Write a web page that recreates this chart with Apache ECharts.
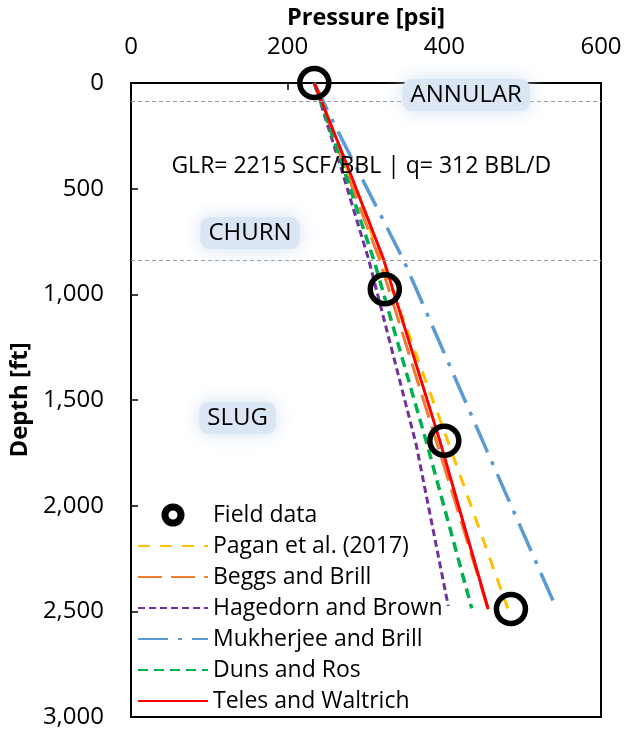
<!DOCTYPE html>
<html>
<head>
<meta charset="utf-8">
<script src="https://cdn.jsdelivr.net/npm/echarts@6/dist/echarts.min.js"></script>
<style>
  html, body { margin: 0; padding: 0; background: #fff; }
  #chart { width: 627px; height: 733px; }
</style>
</head>
<body>
<div id="chart"></div>
<script>
// ---- Axis ticks ----
const pressureTicks = [0, 200, 400, 600];       // psi
const depthTicks = [0, 500, 1000, 1500, 2000, 2500, 3000]; // ft

// ---- Field measurements ----
const fieldDepth = [0, 976, 1693, 2489];
const fieldPressure = [234, 324, 400, 485];

// ---- Model predictions (depth ft, pressure psi) ----
const paganDepth = [0, 400, 800, 1690, 2486];
const paganPressure = [234, 275, 316, 404, 481];

const beggsDepth = [0, 400, 822, 1816, 2490];
const beggsPressure = [234, 273, 316, 400, 456];

const hagedornDepth = [0, 400, 830, 1710, 2475];
const hagedornPressure = [234, 268, 303, 364, 405];

const mukherjeeDepth = [0, 191, 838, 1737, 2460];
const mukherjeePressure = [234, 259, 348, 454, 540];

const dunsDepth = [0, 400, 850, 1710, 2486];
const dunsPressure = [234, 271, 311, 378, 435];

const telesDepth = [0, 400, 830, 1690, 2490];
const telesPressure = [234, 277, 322, 394, 456];

// ---- Flow pattern boundaries and labels ----
const transitionDepths = [85, 840];
const regimeNames = ['ANNULAR', 'CHURN', 'SLUG'];
const conditionsText = 'GLR= 2215 SCF/BBL | q= 312 BBL/D';

const FONT = '"Open Sans", "Noto Sans", sans-serif';

function toPairs(pressures, depths) {
  return pressures.map((p, i) => [p, depths[i]]);
}
function withCommas(v) {
  return String(v).replace(/\B(?=(\d{3})+(?!\d))/g, ',');
}

const models = [
  { name: 'Pagan et al. (2017)', p: paganPressure, d: paganDepth, color: '#FFC000', width: 3, dash: [12, 10] },
  { name: 'Beggs and Brill', p: beggsPressure, d: beggsDepth, color: '#ED7D31', width: 3, dash: [24, 9] },
  { name: 'Hagedorn and Brown', p: hagedornPressure, d: hagedornDepth, color: '#7030A0', width: 3, dash: [7, 4] },
  { name: 'Mukherjee and Brill', p: mukherjeePressure, d: mukherjeeDepth, color: '#5B9BD5', width: 3.5, dash: [30, 10, 4, 10] },
  { name: 'Duns and Ros', p: dunsPressure, d: dunsDepth, color: '#00B050', width: 3.5, dash: [10, 6] },
  { name: 'Teles and Waltrich', p: telesPressure, d: telesDepth, color: '#FF0000', width: 3, dash: 'solid' }
];

const series = [];

// dashed flow-regime boundaries
series.push({
  type: 'line',
  data: [],
  silent: true,
  z: 1,
  markLine: {
    silent: true,
    symbol: 'none',
    label: { show: false },
    animation: false,
    lineStyle: { color: '#9a9a9a', width: 1, type: [4, 3] },
    data: transitionDepths.map(d => ({ yAxis: d }))
  }
});

series.push({
  name: 'Field data',
  type: 'scatter',
  data: toPairs(fieldPressure, fieldDepth),
  symbol: 'circle',
  symbolSize: 29,
  z: 6,
  itemStyle: { color: 'rgba(0,0,0,0)', borderColor: '#000', borderWidth: 5.5, opacity: 1 },
  emphasis: { disabled: true }
});

models.forEach(m => {
  series.push({
    name: m.name,
    type: 'line',
    data: toPairs(m.p, m.d),
    symbol: 'none',
    smooth: false,
    z: 3,
    lineStyle: { color: m.color, width: m.width, type: m.dash },
    itemStyle: { color: m.color },
    emphasis: { disabled: true }
  });
});

const chart = echarts.init(document.getElementById('chart'), null, { renderer: 'canvas' });

chart.setOption({
  animation: false,
  backgroundColor: '#fff',
  textStyle: { fontFamily: FONT },
  grid: {
    left: 127, right: 26, top: 83, bottom: 16,
    show: true, borderColor: '#000', borderWidth: 2, backgroundColor: 'rgba(0,0,0,0)'
  },
  xAxis: {
    type: 'value',
    position: 'top',
    min: pressureTicks[0],
    max: pressureTicks[pressureTicks.length - 1],
    interval: pressureTicks[1] - pressureTicks[0],
    name: 'Pressure [psi]',
    nameLocation: 'middle',
    nameGap: 48,
    nameTextStyle: { fontFamily: FONT, fontSize: 23.5, fontWeight: 'bold', color: '#000' },
    axisLine: { show: true, lineStyle: { color: '#000', width: 2 } },
    axisTick: { show: true, inside: true, length: 7, lineStyle: { color: '#000', width: 1.5 } },
    axisLabel: { fontFamily: FONT, fontSize: 24, color: '#000', margin: 24 },
    splitLine: { show: false }
  },
  yAxis: {
    type: 'value',
    inverse: true,
    min: depthTicks[0],
    max: depthTicks[depthTicks.length - 1],
    interval: depthTicks[1] - depthTicks[0],
    name: 'Depth [ft]',
    nameLocation: 'middle',
    nameGap: 91,
    nameRotate: 90,
    nameTextStyle: { fontFamily: FONT, fontSize: 24, fontWeight: 'bold', color: '#000' },
    axisLine: { show: true, lineStyle: { color: '#000', width: 2 } },
    axisTick: { show: true, inside: true, length: 7, lineStyle: { color: '#000', width: 1.5 } },
    axisLabel: { fontFamily: FONT, fontSize: 24, color: '#000', margin: 27, formatter: v => withCommas(v) },
    splitLine: { show: false }
  },
  legend: {
    orient: 'vertical',
    left: 137,
    top: 503,
    padding: 0,
    itemWidth: 70,
    itemHeight: 16,
    itemGap: 7,
    selectedMode: false,
    // line entries show only their stroke pattern
    itemStyle: { opacity: 0 },
    textStyle: { fontFamily: FONT, fontSize: 23, color: '#000', lineHeight: 24 },
    data: [
      { name: 'Field data', itemStyle: { color: '#fff', borderColor: '#000', borderWidth: 7, opacity: 1 } },
      ...models.map(m => m.name)
    ]
  },
  series: series
});

// ---- Annotations placed in data coordinates ----
const annotationSpots = [
  { text: regimeNames[0], at: [428, 57], glow: true },
  { text: regimeNames[1], at: [152, 710], glow: true },
  { text: regimeNames[2], at: [136, 1585], glow: true },
  { text: conditionsText, at: [294, 396], glow: false, size: 23 }
];

const graphics = [];
annotationSpots.forEach(a => {
  const pt = chart.convertToPixel({ gridIndex: 0 }, a.at);
  const size = a.size || 24;
  const font = size + 'px ' + FONT;
  const w = echarts.format.getTextRect
    ? echarts.format.getTextRect(a.text, font).width
    : a.text.length * size * 0.6;
  if (a.glow) {
    graphics.push({
      type: 'rect',
      silent: true,
      z: 20,
      shape: { x: pt[0] - w / 2 - 8, y: pt[1] - 16, width: w + 16, height: 32, r: 9 },
      style: { fill: '#dae6f4', shadowBlur: 20, shadowColor: '#d3e1f2' }
    });
  }
  graphics.push({
    type: 'text',
    silent: true,
    z: 21,
    style: {
      x: pt[0], y: pt[1], text: a.text, fill: '#000', font: font,
      textAlign: 'center', textVerticalAlign: 'middle'
    }
  });
});

chart.setOption({ graphic: graphics });
</script>
</body>
</html>
